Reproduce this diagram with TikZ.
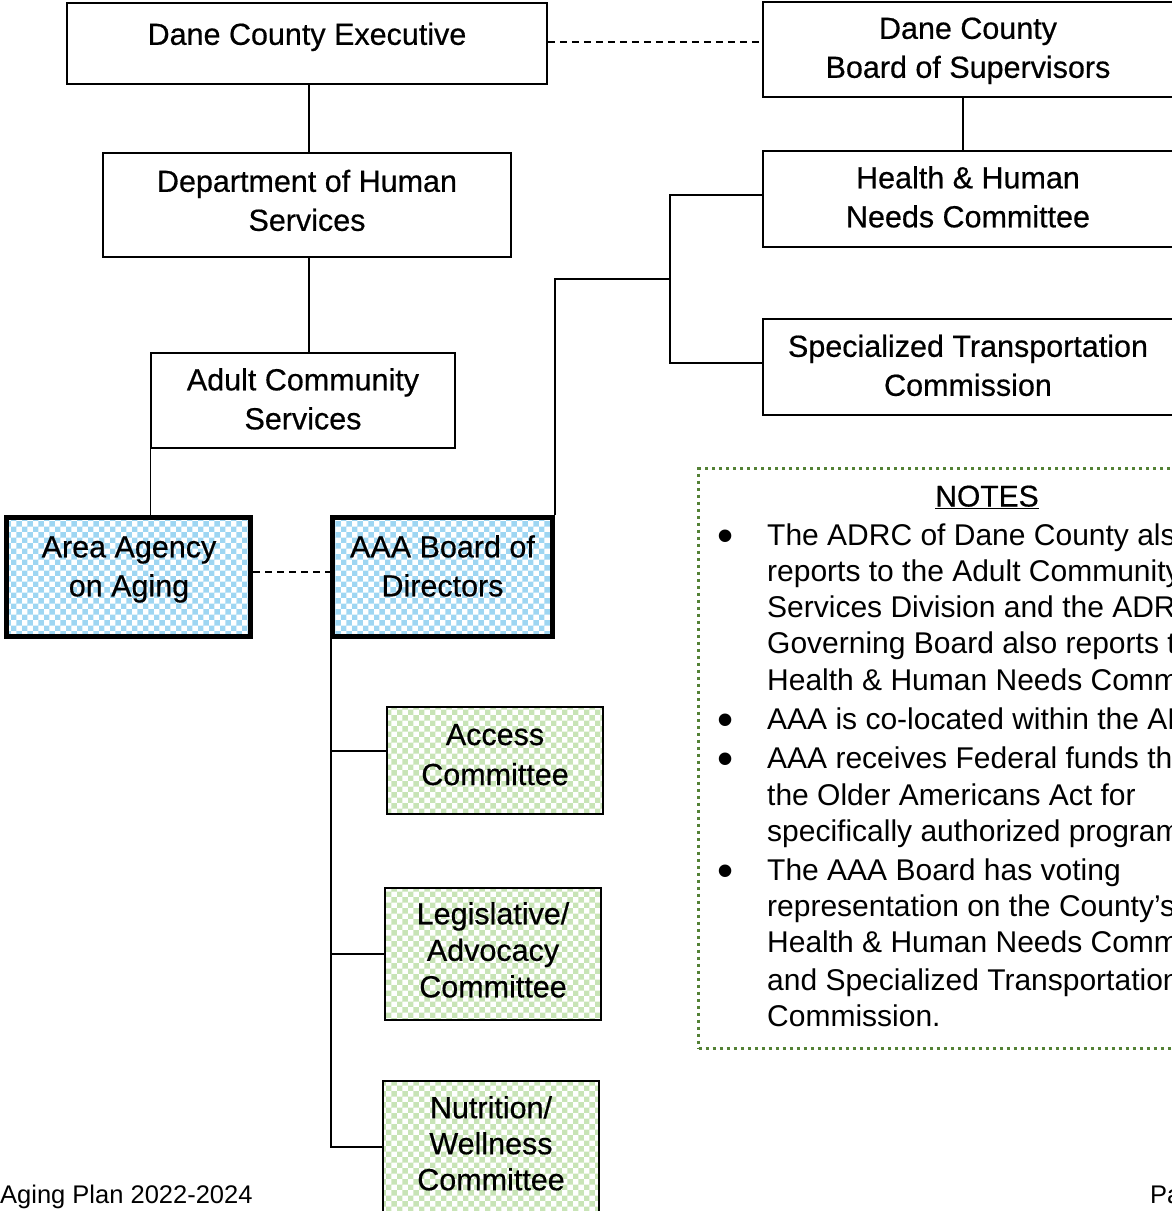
\documentclass[tikz,border=0pt]{standalone}
\usepackage{fontspec}
\setmainfont{Liberation Sans}
\newfontfamily\boxfont[FakeBold=0.5]{Liberation Sans}
\usetikzlibrary{patterns}
\definecolor{aaablue}{HTML}{9ED6F2}
\definecolor{comgreen}{HTML}{C8E4B6}
\definecolor{notegreen}{HTML}{538135}
\tikzset{
 orgbox/.style={draw=black, line width=1.5pt, inner sep=0pt},
 thickbox/.style={draw=black, line width=5pt, inner sep=0pt, pattern=checkerboard, pattern color=aaablue},
 combox/.style={draw=black, line width=1.5pt, inner sep=0pt, pattern=checkerboard, pattern color=comgreen},
 boxtext/.style={inner sep=0pt, align=center, font=\boxfont\fontsize{30.5}{39}\selectfont},
 link/.style={line width=1.5pt},
 dashlink/.style={line width=1.5pt, dash pattern=on 7pt off 5pt},
 notetext/.style={inner sep=0pt, anchor=base west, font=\fontsize{30}{36}\selectfont},
 bullettext/.style={inner sep=0pt, anchor=base, font=\fontsize{46}{46}\selectfont},
 foottext/.style={inner sep=0pt, anchor=base west, font=\fontsize{25.5}{30}\selectfont},
}
\begin{document}
\begin{tikzpicture}[x=1pt,y=-1pt]
\useasboundingbox (0,0) rectangle (1172,1211);
\clip (0,0) rectangle (1172,1211);

% boxes
\node[orgbox, minimum width=480pt, minimum height=81pt] (exec) at (307,43.5) {};
\node[orgbox, minimum width=411pt, minimum height=95pt] (board) at (968.5,49.5) {};
\node[orgbox, minimum width=408pt, minimum height=104pt] (dhs) at (307,205) {};
\node[orgbox, minimum width=304pt, minimum height=95pt] (acs) at (303,400.5) {};
\node[orgbox, minimum width=411pt, minimum height=96pt] (hhn) at (968.5,199) {};
\node[orgbox, minimum width=411pt, minimum height=96pt] (stc) at (968.5,367) {};
\node[thickbox, minimum width=244pt, minimum height=119pt] (area) at (128.5,577) {};
\node[thickbox, minimum width=220pt, minimum height=119pt] (aaab) at (442.5,577) {};
\node[combox, minimum width=216pt, minimum height=107pt] (access) at (495,760.5) {};
\node[combox, minimum width=216pt, minimum height=132pt] (legis) at (493,954) {};
\node[combox, minimum width=216pt, minimum height=132pt] (nut) at (491,1147) {};

% box texts
\node[boxtext] (exect) at (307,37) {\strut Dane County Executive};
\node[boxtext] (boardt) at (968,50.5) {\strut Dane County\\\strut Board of Supervisors};
\node[boxtext] (dhst) at (307,203.5) {\strut Department of Human\\\strut Services};
\node[boxtext] (acst) at (303,402) {\strut Adult Community\\\strut Services};
\node[boxtext] (hhnt) at (968,200) {\strut Health \& Human\\\strut Needs Committee};
\node[boxtext] (stct) at (968,368.5) {\strut Specialized Transportation\\\strut Commission};
\node[boxtext] (areat) at (129,569) {\strut Area Agency\\\strut on Aging};
\node[boxtext] (aaabt) at (442.5,569) {\strut AAA Board of\\\strut Directors};
\node[boxtext, font=\boxfont\fontsize{30.5}{40}\selectfont] (accesst) at (495,757) {\strut Access\\\strut Committee};
\node[boxtext, font=\boxfont\fontsize{30.5}{36.5}\selectfont] (legist) at (493,953.5) {\strut Legislative/\\\strut Advocacy\\\strut Committee};
\node[boxtext, font=\boxfont\fontsize{30.5}{36}\selectfont] (nutt) at (491,1147) {\strut Nutrition/\\\strut Wellness\\\strut Committee};

% connectors
\draw[link] ([xshift=2pt]exec.south) -- ([xshift=2pt]exec.south |- dhs.north);
\draw[link] ([xshift=2pt]dhs.south) -- ([xshift=2pt]dhs.south |- acs.north);
\draw[link] (acs.south west) -- (acs.south west |- area.north);
\draw[dashlink] ([yshift=1.5pt]exec.east) -- ([yshift=1.5pt]exec.east -| board.west);
\draw[link] ([xshift=-5.5pt]board.south) -- ([xshift=-5.5pt]board.south |- hhn.north);
\coordinate (jn) at (670,279);
\draw[link] (aaab.north east) |- (jn);
\draw[link] ([yshift=4pt]hhn.west) -- ([yshift=4pt]hhn.west -| jn) -- ([yshift=4pt]stc.west -| jn) -- ([yshift=4pt]stc.west);
\draw[dashlink] ([yshift=5pt]area.east) -- ([yshift=5pt]area.east -| aaab.west);
\draw[link] ([xshift=1pt]aaab.south west) -- ([xshift=1pt]aaab.south west |- nut.west) -- (nut.west);
\draw[link] ([yshift=9.5pt]access.west) -- ([yshift=9.5pt]access.west -| aaab.south west);
\draw[link] (legis.west) -- (legis.west -| aaab.south west);

% notes frame
\node[draw=notegreen, line width=3pt, dash pattern=on 3pt off 4pt, inner sep=0pt,
      minimum width=600pt, minimum height=580pt] (notes) at (998.5,758.5) {};
\node[inner sep=0pt, anchor=base, font=\boxfont\fontsize{30}{36}\selectfont] (notest) at (987,506.5) {\underline{NOTES}};
\foreach \b/\t [count=\i] in {
 545/The ADRC of Dane County also,
 581/reports to the Adult Community,
 617/Services Division and the ADRC,
 653/Governing Board also reports to,
 690/Health \& Human Needs Committee.,
 729/AAA is co-located within the ADRC.,
 768/AAA receives Federal funds through,
 805/the Older Americans Act for,
 841/specifically authorized programs.,
 880/The AAA Board has voting,
 916/representation on the County’s,
 952/Health \& Human Needs Committee,
 990/and Specialized Transportation,
 1026/Commission.}
 {\node[notetext] (note\i) at (767,\b) {\t};}
\foreach \b [count=\i] in {551,735,774,886}
 {\node[bullettext] (bul\i) at (726,\b) {•};}

% footer
\node[foottext] (footl) at (0,1203) {Aging Plan 2022-2024};
\node[foottext] (footr) at (1150,1203) {Page};
\end{tikzpicture}
\end{document}
